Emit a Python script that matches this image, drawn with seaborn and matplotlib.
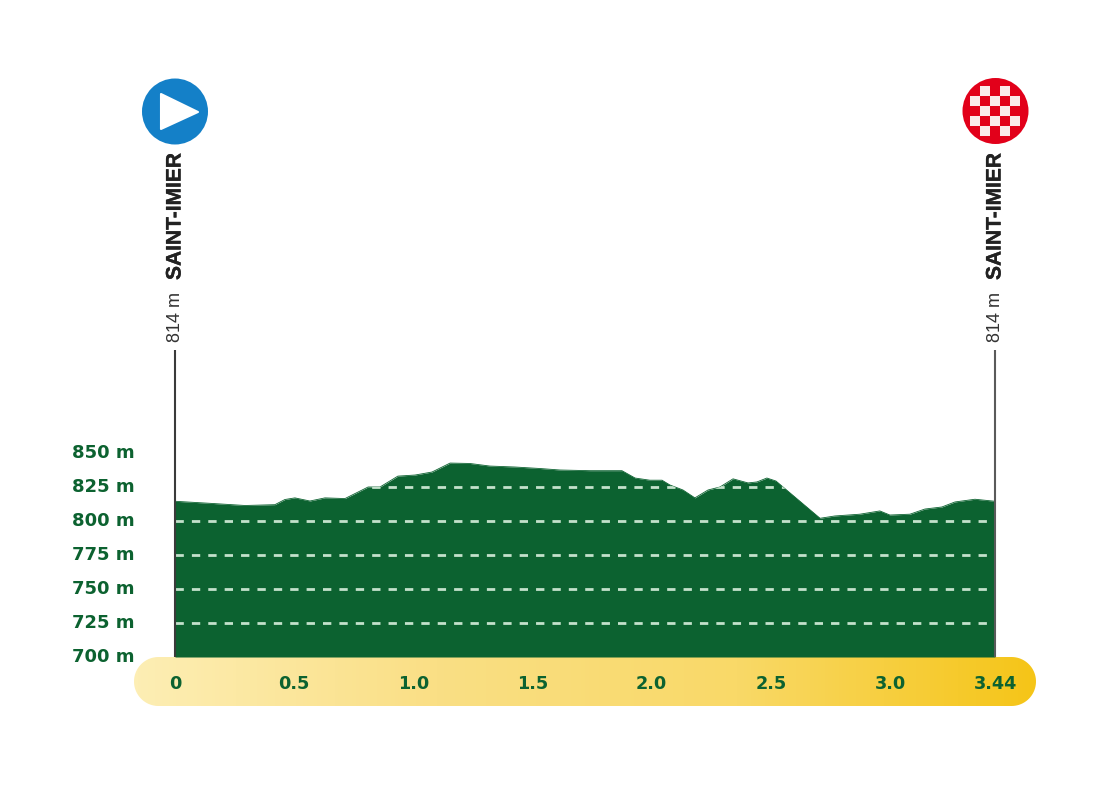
import numpy as np
import pandas as pd
import seaborn as sns
import matplotlib
matplotlib.use("Agg")
import matplotlib.pyplot as plt
import matplotlib.patheffects as pe
from matplotlib.colors import LinearSegmentedColormap
from matplotlib.patches import Circle, Polygon, Rectangle, PathPatch
from matplotlib.path import Path
from matplotlib.transforms import ScaledTranslation
from matplotlib.font_manager import FontProperties

km = [0, .147, .294, .419, .461, .503, .566, .629, .713, .776, .81, .86, .935, 1.007, 1.078,
      1.154, 1.237, 1.321, 1.426, 1.531, 1.615, 1.741, 1.875, 1.93, 1.992, 2.043, 2.076,
      2.131, 2.181, 2.236, 2.286, 2.341, 2.404, 2.441, 2.483, 2.521, 2.706, 2.768, 2.873,
      2.957, 2.999, 3.083, 3.146, 3.217, 3.272, 3.356, 3.44]
elevation = [814.5, 813, 811.4, 812, 815.8, 817, 814.7, 817, 816.5, 822, 825, 825, 833, 833.8, 836,
             842.6, 842.3, 840.4, 839.7, 838.6, 837.5, 837, 837, 831.6, 830, 830, 826.5,
             822.8, 817, 822.8, 825, 831, 828, 828.7, 831.6, 829.4, 802, 803.7, 805,
             807.4, 804.4, 805, 808.8, 810.3, 814, 816, 814.5]
x_ticks = [0, 0.5, 1.0, 1.5, 2.0, 2.5, 3.0, 3.44]
x_labels = ["0", "0.5", "1.0", "1.5", "2.0", "2.5", "3.0", "3.44"]
y_ticks = [700, 725, 750, 775, 800, 825, 850]
y_labels = ["700 m", "725 m", "750 m", "775 m", "800 m", "825 m", "850 m"]
grid_levels = [725, 750, 775, 800, 825]
place = "SAINT-IMIER"
place_elev = "814 m"

GREEN = "#0C6230"
W, H = 1116, 800
sns.set_theme(style="white")
plt.rcParams["font.family"] = ["DejaVu Sans"]

fig = plt.figure(figsize=(W / 100, H / 100), dpi=100, facecolor="white")

# pixel overlay for the decorations
deco = fig.add_axes([0, 0, 1, 1], zorder=0)
deco.axis("off")
cmap = LinearSegmentedColormap.from_list("bar", ["#FDEEB4", "#FADF85", "#F9D968", "#F5C518"])
grad = deco.imshow(np.linspace(0, 1, 256)[None, :], cmap=cmap, extent=(134, 1036, 706, 657),
                   aspect="auto", zorder=1)
deco.set_xlim(0, W)
deco.set_ylim(H, 0)
r = 24.5
th = np.linspace(-np.pi / 2, np.pi / 2, 40)
xs = np.r_[1036 - r + r * np.cos(th), 134 + r - r * np.cos(th[::-1] * -1)]
ys = np.r_[681.5 + r * np.sin(th), 681.5 - r * np.sin(th)]
clip = PathPatch(Path(np.c_[xs, ys]), fc="none", ec="none", transform=deco.transData)
deco.add_patch(clip)
grad.set_clip_path(clip)

deco.add_patch(Circle((175, 111.5), 33, fc="#1480C8", ec="none", zorder=2))
deco.add_patch(Polygon([(161, 94), (161, 129), (198, 112)], fc="white", ec="white", lw=1.5,
                       joinstyle="round", zorder=3))
deco.add_patch(Circle((995.5, 111), 33, fc="#E2001A", ec="none", zorder=2))
for cy, cxs in [(91, (985, 1005)), (101, (975, 995, 1015)), (111, (985, 1005)),
                (121, (975, 995, 1015)), (131, (985, 1005))]:
    for cx in cxs:
        deco.add_patch(Rectangle((cx - 4.7, cy - 4.7), 9.4, 9.4, fc="#FBE9EA", ec="none", zorder=3))

# profile axes
ax = fig.add_axes([175 / W, 1 - 657 / H, 820 / W, 204 / H], zorder=1)
ax.patch.set_alpha(0)
df = pd.DataFrame({"km": km, "elevation": elevation})
poly = ax.fill_between(df["km"], df["elevation"], 700, color=GREEN, lw=0, zorder=2)
sns.lineplot(data=df, x="km", y="elevation", ax=ax, color=GREEN, lw=0.6, zorder=2, errorbar=None)
ax.set_xlim(0, 3.44)
ax.set_ylim(700, 850)

for lev in grid_levels:
    ln, = ax.plot([0, 3.44], [lev, lev], color="#C4E1CB", lw=2.0, zorder=3,
                  dashes=(3.0, 2.9), dash_capstyle="butt")
    ln.set_clip_path(poly.get_paths()[0], ax.transData)

bold = FontProperties(family="Liberation Sans", weight="bold", size=15.1)
top = 925.7
for xpos, col in [(0, "#3A3A3A"), (3.44, "#5A5A5A")]:
    ax.plot([xpos, xpos], [700, top], color=col, lw=1.5, clip_on=False, zorder=4, solid_capstyle="butt")
    ax.text(xpos, 700 + (657 - 342) / 1.36, place_elev, rotation=90, ha="center", va="bottom",
            family="Liberation Sans", fontsize=13, color="#333333", clip_on=False)
    ax.text(xpos, 700 + (657 - 280) / 1.36, place, rotation=90, ha="center", va="bottom",
            fontproperties=bold, color="#222222", clip_on=False,
            path_effects=[pe.withStroke(linewidth=0.25, foreground="#222222")])

ax.set_xticks(x_ticks, x_labels)
ax.set_yticks(y_ticks, y_labels)
ax.tick_params(axis="x", length=0, pad=13, labelsize=12.7, labelcolor=GREEN)
ax.tick_params(axis="y", length=0, pad=29, labelsize=13, labelcolor=GREEN)
for t in ax.get_xticklabels() + ax.get_yticklabels():
    t.set_fontweight("bold")
shift = ScaledTranslation(0, 2.5 / 100, fig.dpi_scale_trans)
for t in ax.get_yticklabels():
    t.set_transform(t.get_transform() + shift)
ax.set_xlabel("")
ax.set_ylabel("")
sns.despine(ax=ax, left=True, bottom=True)

fig.savefig("out.png", dpi=100, facecolor="white")
